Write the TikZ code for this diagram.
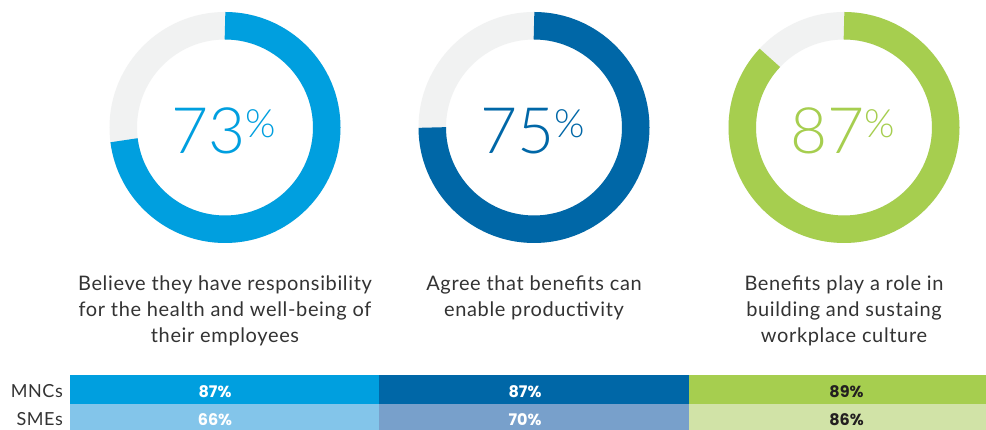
\documentclass[tikz,border=0pt]{standalone}
\usepackage{fontspec}
\setmainfont{Lato}
\newfontfamily\descfont{Lato}[LetterSpace=3.2]
\newfontfamily\lightfont{Lato Light}
\newfontfamily\barfont{Poppins}
\definecolor{cyanA}{HTML}{009FDF}
\definecolor{blueB}{HTML}{0067A7}
\definecolor{greenC}{HTML}{A6CE4F}
\definecolor{cyanL}{HTML}{83C5EA}
\definecolor{blueL}{HTML}{78A0CB}
\definecolor{greenL}{HTML}{D1E3A7}
\definecolor{ringgray}{HTML}{F1F2F2}
\definecolor{txt}{HTML}{333333}
\definecolor{darktxt}{HTML}{231F20}
\begin{document}
\begin{tikzpicture}[x=1pt,y=1pt,
  ring/.style={line width=27.5pt, draw=ringgray},
  arcc/.style={line width=27.5pt, line cap=butt},
  big/.style={anchor=base, inner sep=0pt, font=\lightfont\fontsize{64}{64}\selectfont},
  desc/.style={align=center, anchor=north, inner sep=0pt, text=txt, font=\descfont\fontsize{20}{26}\selectfont},
  rowlab/.style={anchor=base east, inner sep=0pt, text=txt, font=\descfont\fontsize{18}{18}\selectfont},
  barnum/.style={anchor=base, inner sep=0pt, font=\barfont\bfseries\fontsize{16}{16}\selectfont}]
\fill[white] (0,0) rectangle (986,430);
\useasboundingbox (0,0) rectangle (986,430);
% donuts
\coordinate (c1) at (225,302.5);
\coordinate (c2) at (534,302.5);
\coordinate (c3) at (844,302.5);
\draw[ring] (c1) circle[radius=101.75];
\draw[arcc, draw=cyanA] (c1) ++(90:101.75) arc[start angle=90, delta angle=-262.8, radius=101.75];
\draw[ring] (c2) circle[radius=101.75];
\draw[arcc, draw=blueB] (c2) ++(90:101.75) arc[start angle=90, delta angle=-270, radius=101.75];
\draw[ring] (c3) circle[radius=101.75];
\draw[arcc, draw=greenC] (c3) ++(90:101.75) arc[start angle=90, delta angle=-313.2, radius=101.75];
% big numbers
\newcommand{\pct}{\raisebox{16pt}{\fontsize{39}{39}\selectfont\%}}
\node[big, text=cyanA] (n1) at (224,276) {73\pct};
\node[big, text=blueB] (n2) at (533,276) {75\pct};
\node[big, text=greenC] (n3) at (843,276) {87\pct};
% descriptions
\node[desc] (t1) at (225,154) {Believe they have responsibility\\for the health and well-being of\\their employees};
\node[desc] (t2) at (534,154) {Agree that benefits can\\enable productivity};
\node[desc] (t3) at (844,154) {Benefits play a role in\\building and sustaing\\workplace culture};
% bars
\fill[cyanA] (70,26) rectangle (379,55);
\fill[blueB] (379,26) rectangle (689,55);
\fill[greenC] (689,26) rectangle (986,55);
\fill[cyanL] (70,0) rectangle (379,26);
\fill[blueL] (379,0) rectangle (689,26);
\fill[greenL] (689,0) rectangle (986,26);
\node[rowlab] (mnc) at (63,32.7) {MNCs};
\node[rowlab] (sme) at (63,4.3) {SMEs};
\node[barnum, text=white] (m1) at (215,32.7) {87\%};
\node[barnum, text=white] (m2) at (525,32.7) {87\%};
\node[barnum, text=darktxt] (m3) at (846.5,32.7) {89\%};
\node[barnum, text=white] (s1) at (215,4.3) {66\%};
\node[barnum, text=white] (s2) at (525,4.3) {70\%};
\node[barnum, text=darktxt] (s3) at (846.5,4.3) {86\%};
\end{tikzpicture}
\end{document}
